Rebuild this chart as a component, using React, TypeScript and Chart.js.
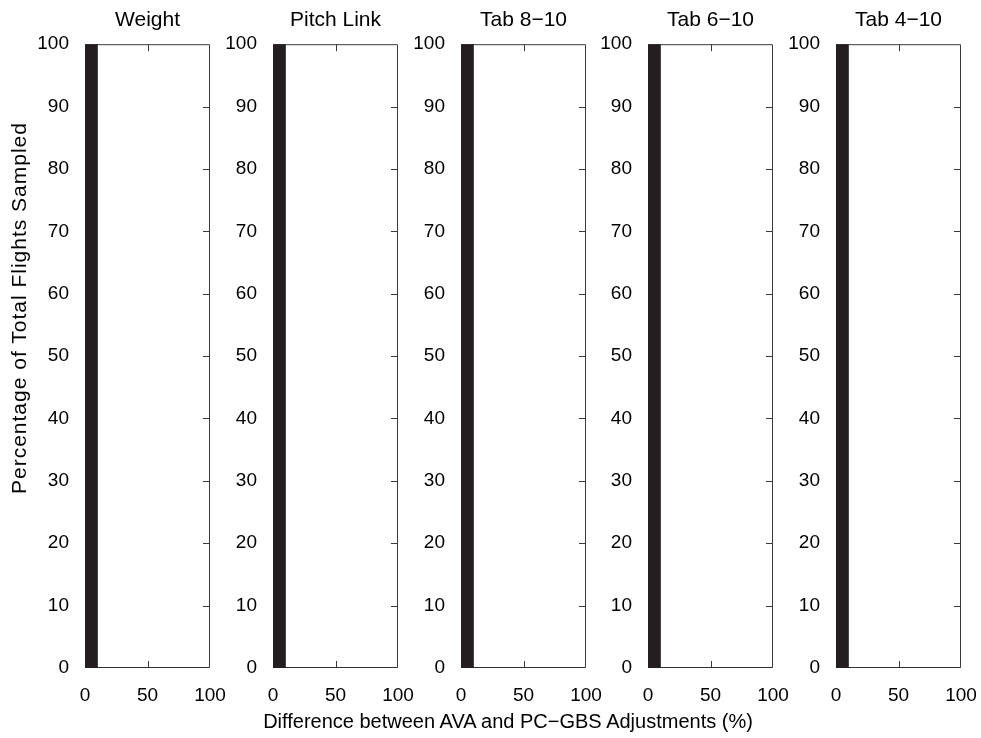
import React, { useEffect, useRef } from "react";
import { Chart, registerables } from "chart.js";

Chart.register(...registerables);

// ---- data ----
const panelTitles = ["Weight", "Pitch Link", "Tab 8−10", "Tab 6−10", "Tab 4−10"];
const binCenters = [5, 15, 25, 35, 45, 55, 65, 75, 85, 95];
const weightPct = [100, 0, 0, 0, 0, 0, 0, 0, 0, 0];
const pitchLinkPct = [100, 0, 0, 0, 0, 0, 0, 0, 0, 0];
const tab810Pct = [100, 0, 0, 0, 0, 0, 0, 0, 0, 0];
const tab610Pct = [100, 0, 0, 0, 0, 0, 0, 0, 0, 0];
const tab410Pct = [100, 0, 0, 0, 0, 0, 0, 0, 0, 0];
const panelValues = [weightPct, pitchLinkPct, tab810Pct, tab610Pct, tab410Pct];
const xTickStep = 50;
const yTickStep = 10;
const xLabel = "Difference between AVA and PC−GBS Adjustments (%)";
const yLabel = "Percentage of Total Flights Sampled";

// ---- layout ----
const panelLefts = [85, 273, 461, 648, 836];
const plotWidth = 125;
const yAxisWidth = 60;
const rightPad = 22;
const FONT = "'Liberation Sans', Arial, Helvetica, sans-serif";
const TEXT = "#000";
const LINE = "#3a3a3a";
const BAR = "#231f20";

const boxPlugin = {
  id: "boxTicks",
  beforeDatasetsDraw(chart: any) {
    const { ctx, chartArea } = chart;
    const { left, right, top, bottom } = chartArea;
    const xs = chart.scales.x;
    const ys = chart.scales.y;
    const len = 7;
    ctx.save();
    ctx.strokeStyle = LINE;
    ctx.lineWidth = 1;
    ctx.beginPath();
    ctx.rect(left + 0.5, top + 0.5, right - left - 1, bottom - top - 1);
    ctx.stroke();
    ctx.beginPath();
    ys.ticks.forEach((t: any) => {
      if (t.value <= 0 || t.value >= 100) return;
      const y = Math.round(ys.getPixelForValue(t.value)) + 0.5;
      ctx.moveTo(right - len, y);
      ctx.lineTo(right, y);
      ctx.moveTo(left, y);
      ctx.lineTo(left + len, y);
    });
    xs.ticks.forEach((t: any) => {
      if (t.value <= 0 || t.value >= 100) return;
      const x = Math.round(xs.getPixelForValue(t.value)) + 0.5;
      ctx.moveTo(x, bottom);
      ctx.lineTo(x, bottom - len);
      ctx.moveTo(x, top);
      ctx.lineTo(x, top + len);
    });
    ctx.stroke();
    ctx.restore();
  },
};

function Panel({ title, values, left }: { title: string; values: number[]; left: number }) {
  const ref = useRef<HTMLCanvasElement | null>(null);
  useEffect(() => {
    if (!ref.current) return;
    const chart = new Chart(ref.current, {
      type: "bar",
      data: {
        datasets: [
          {
            data: binCenters.map((c, i) => ({ x: c, y: values[i] })),
            backgroundColor: BAR,
            borderWidth: 0,
            barPercentage: 1,
            categoryPercentage: 1,
          },
        ],
      },
      options: {
        responsive: false,
        animation: false,
        layout: { padding: { left: 0, right: rightPad, top: 0, bottom: 0 } },
        plugins: {
          legend: { display: false },
          tooltip: { enabled: false },
          title: {
            display: true,
            fullSize: false,
            text: title,
            color: TEXT,
            font: { family: FONT, size: 21, weight: "normal", lineHeight: 1.2 },
            padding: { top: 8, bottom: 11 },
          },
        },
        scales: {
          x: {
            type: "linear",
            min: 0,
            max: 100,
            offset: false,
            grid: { display: false, drawTicks: false },
            border: { display: false },
            ticks: {
              stepSize: xTickStep,
              color: TEXT,
              font: { family: FONT, size: 19 },
              padding: 16,
              maxRotation: 0,
              autoSkip: false,
            },
            afterFit: (s: any) => {
              s.height = 70;
              s.paddingLeft = 0;
              s.paddingRight = 0;
            },
          },
          y: {
            type: "linear",
            min: 0,
            max: 100,
            grid: { display: false, drawTicks: false },
            border: { display: false },
            ticks: {
              stepSize: yTickStep,
              color: TEXT,
              font: { family: FONT, size: 19 },
              padding: 16,
            },
            afterFit: (s: any) => {
              s.width = yAxisWidth;
              s.paddingTop = 0;
              s.paddingBottom = 0;
            },
          },
        },
      } as any,
      plugins: [boxPlugin],
    });
    return () => chart.destroy();
  }, [title, values]);
  const w = yAxisWidth + plotWidth + rightPad;
  return (
    <canvas
      ref={ref}
      width={w}
      height={738}
      style={{ position: "absolute", left: left - yAxisWidth, top: 0, width: w, height: 738 }}
    />
  );
}

export default function App() {
  return (
    <div style={{ position: "absolute", left: 0, top: 0, width: 981, height: 738, background: "#fff", overflow: "hidden" }}>
      {panelTitles.map((t, i) => (
        <Panel key={t} title={t} values={panelValues[i]} left={panelLefts[i]} />
      ))}
      <div
        style={{
          position: "absolute",
          left: 508,
          top: 721,
          transform: "translate(-50%, -50%)",
          font: `20px ${FONT}`,
          color: TEXT,
          whiteSpace: "nowrap",
        }}
      >
        {xLabel}
      </div>
      <div
        style={{
          position: "absolute",
          left: 19,
          top: 308,
          transform: "translate(-50%, -50%) rotate(-90deg)",
          font: `21px ${FONT}`,
          letterSpacing: "1px",
          color: TEXT,
          whiteSpace: "nowrap",
        }}
      >
        {yLabel}
      </div>
    </div>
  );
}
